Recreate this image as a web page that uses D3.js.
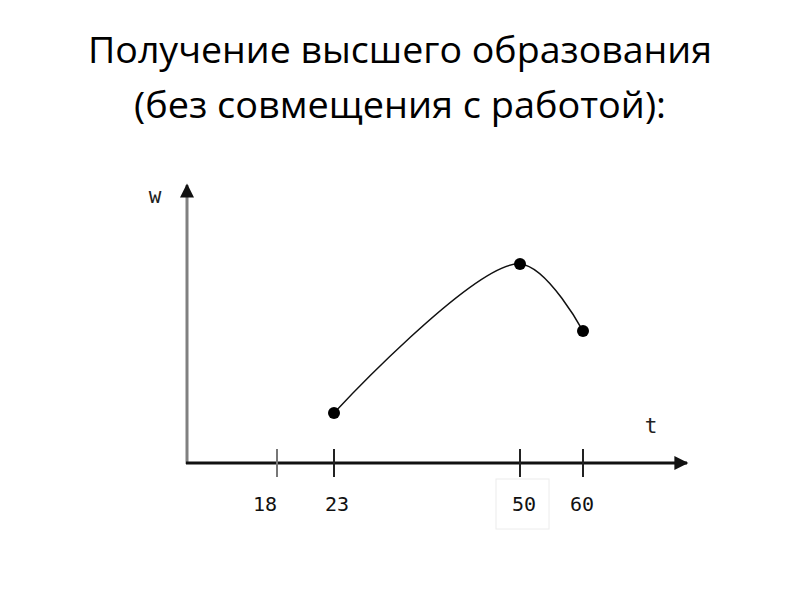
<!DOCTYPE html>
<html>
<head>
<meta charset="utf-8">
<script src="https://cdn.jsdelivr.net/npm/d3@7"></script>
<style>
  body { margin: 0; background: #fff; }
  .title { font-family: "Open Sans", sans-serif; font-size: 37px; fill: #000; }
  .tick-label { font-family: "DejaVu Sans Mono", monospace; font-size: 20px; fill: #111; }
  .axis-label { font-family: "DejaVu Sans Mono", monospace; font-size: 21px; fill: #222; }
</style>
</head>
<body>
<script>

// ages marked on the t axis
var ages = [18, 23, 50, 60];
// wage curve: ages and relative wage level
var curveAges = [23, 50, 60];
var wages = [1.84, 7.32, 4.85];
var titleLines = ["Получение высшего образования", "(без совмещения с работой):"];
var titleWidths = [624, 532];

var width = 794,
    height = 595;

var svg = d3.select("body").append("svg")
    .attr("width", width)
    .attr("height", height);

// title
svg.selectAll("text.title")
    .data(titleLines)
  .enter().append("text")
    .attr("class", "title")
    .attr("x", function(d, i) { return 400 - titleWidths[i] / 2; })
    .attr("y", function(d, i) { return 63 + i * 55; })
    .attr("textLength", function(d, i) { return titleWidths[i]; })
    .attr("lengthAdjust", "spacingAndGlyphs")
    .text(function(d) { return d; });

// the axis in the picture is not to scale, so a piecewise scale is used
var x = d3.scaleLinear()
    .domain(ages)
    .range([277, 334, 520, 583]);

var y = d3.scaleLinear()
    .domain([0, 10])
    .range([463, 191]);

var x0 = 187, y0 = y(0);

// arrow head
svg.append("defs").append("marker")
    .attr("id", "arrow")
    .attr("viewBox", "0 0 10 10")
    .attr("refX", 9)
    .attr("refY", 5)
    .attr("markerWidth", 15)
    .attr("markerHeight", 14)
    .attr("markerUnits", "userSpaceOnUse")
    .attr("orient", "auto")
  .append("path")
    .attr("d", "M0,0L10,5L0,10Z")
    .attr("fill", "#111");

// y axis
svg.append("line")
    .attr("x1", x0).attr("y1", y0 + 1)
    .attr("x2", x0).attr("y2", y(10) - 6)
    .attr("stroke", "#808080")
    .attr("stroke-width", 3)
    .attr("marker-end", "url(#arrow)");

// x axis
svg.append("line")
    .attr("x1", x0 - 1).attr("y1", y0)
    .attr("x2", 687).attr("y2", y0)
    .attr("stroke", "#111")
    .attr("stroke-width", 3)
    .attr("marker-end", "url(#arrow)");

svg.append("text")
    .attr("class", "axis-label")
    .attr("x", 155).attr("y", 203)
    .attr("text-anchor", "middle")
    .text("w");

svg.append("text")
    .attr("class", "axis-label")
    .attr("x", 651).attr("y", 433)
    .attr("text-anchor", "middle")
    .text("t");

// faint box around the 50 label
svg.append("rect")
    .attr("x", x(50) - 24).attr("y", y0 + 16)
    .attr("width", 53).attr("height", 50)
    .attr("fill", "#fff")
    .attr("stroke", "#ececec");

// ticks
var tick = svg.selectAll("g.tick")
    .data(ages)
  .enter().append("g")
    .attr("class", "tick")
    .attr("transform", function(d) { return "translate(" + x(d) + "," + y0 + ")"; });

tick.append("line")
    .attr("y1", -14)
    .attr("y2", 14)
    .attr("stroke", function(d) { return d === 18 ? "#777" : "#222"; })
    .attr("stroke-width", 2);

var labelShift = { 18: -12, 23: 3, 50: 4, 60: -1 };

tick.append("text")
    .attr("class", "tick-label")
    .attr("x", function(d) { return labelShift[d]; })
    .attr("y", 48)
    .attr("text-anchor", "middle")
    .text(function(d) { return d; });

// wage curve
var pts = curveAges.map(function(a, i) { return [a, wages[i]]; });

var line = d3.line()
    .x(function(d) { return x(d[0]); })
    .y(function(d) { return y(d[1]); })
    .curve(d3.curveCatmullRom.alpha(0.5));

svg.append("path")
    .attr("d", line(pts))
    .attr("fill", "none")
    .attr("stroke", "#111")
    .attr("stroke-width", 1.5);

svg.selectAll("circle.pt")
    .data(pts)
  .enter().append("circle")
    .attr("class", "pt")
    .attr("cx", function(d) { return x(d[0]); })
    .attr("cy", function(d) { return y(d[1]); })
    .attr("r", 6)
    .attr("fill", "#000");

</script>
</body>
</html>
